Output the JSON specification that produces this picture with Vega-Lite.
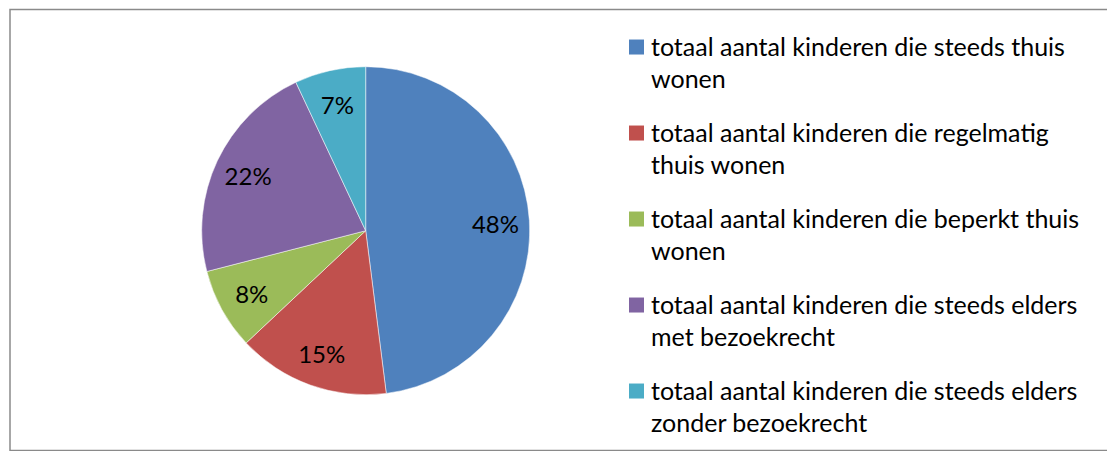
{
  "$schema": "https://vega.github.io/schema/vega-lite/v6.json",
  "width": 1100,
  "height": 441,
  "autosize": {"type": "none"},
  "padding": {"left": 10, "top": 9.5, "right": 0, "bottom": 0},
  "background": "white",
  "view": {"stroke": "#8a8a8a", "strokeWidth": 1.5},
  "config": {
    "view": {"stroke": "#8a8a8a", "strokeWidth": 1.5},
    "style": {"guide-label": {"lineHeight": 32}},
    "font": "Lato"
  },
  "data": {
    "values": [
      {"categorie": "totaal aantal kinderen die steeds thuis wonen", "aandeel": 48, "volgorde": 1, "label": "48%"},
      {"categorie": "totaal aantal kinderen die regelmatig thuis wonen", "aandeel": 15, "volgorde": 2, "label": "15%"},
      {"categorie": "totaal aantal kinderen die beperkt thuis wonen", "aandeel": 8, "volgorde": 3, "label": "8%"},
      {"categorie": "totaal aantal kinderen die steeds elders met bezoekrecht", "aandeel": 22, "volgorde": 4, "label": "22%"},
      {"categorie": "totaal aantal kinderen die steeds elders zonder bezoekrecht", "aandeel": 7, "volgorde": 5, "label": "7%"}
    ]
  },
  "encoding": {
    "theta": {"field": "aandeel", "type": "quantitative", "stack": true},
    "order": {"field": "volgorde", "type": "quantitative", "sort": "ascending"}
  },
  "layer": [
    {
      "mark": {"type": "arc", "outerRadius": 164, "x": 355.7, "y": 221.2, "stroke": "white", "strokeWidth": 0.5},
      "encoding": {
        "color": {
          "field": "categorie",
          "type": "nominal",
          "sort": {"field": "volgorde"},
          "scale": {
            "domain": [
              "totaal aantal kinderen die steeds thuis wonen",
              "totaal aantal kinderen die regelmatig thuis wonen",
              "totaal aantal kinderen die beperkt thuis wonen",
              "totaal aantal kinderen die steeds elders met bezoekrecht",
              "totaal aantal kinderen die steeds elders zonder bezoekrecht"
            ],
            "range": ["#4F81BD", "#C0504D", "#9BBB59", "#8064A2", "#4BACC6"]
          },
          "legend": {
            "title": null,
            "orient": "none",
            "legendX": 614,
            "legendY": 33.5,
            "symbolType": "M-1,-2.13H1V-0.13H-1Z",
            "symbolSize": 225,
            "symbolStrokeWidth": 0,
            "labelFontSize": 25,
            "labelFont": "Lato",
            "labelColor": "#000000",
            "labelBaseline": "alphabetic",
            "labelOffset": 2,
            "labelLimit": 600,
            "rowPadding": 28,
            "encode": {"labels": {"enter": {"lineHeight": {"value": 32}}, "update": {"lineHeight": {"value": 32}}}},
            "labelExpr": "datum.label == 'totaal aantal kinderen die steeds thuis wonen' ? ['totaal aantal kinderen die steeds thuis', 'wonen'] : datum.label == 'totaal aantal kinderen die regelmatig thuis wonen' ? ['totaal aantal kinderen die regelmatig', 'thuis wonen'] : datum.label == 'totaal aantal kinderen die beperkt thuis wonen' ? ['totaal aantal kinderen die beperkt thuis', 'wonen'] : datum.label == 'totaal aantal kinderen die steeds elders met bezoekrecht' ? ['totaal aantal kinderen die steeds elders', 'met bezoekrecht'] : ['totaal aantal kinderen die steeds elders', 'zonder bezoekrecht']"
          }
        }
      }
    },
    {
      "mark": {"type": "text", "radius": 130, "x": 355.7, "y": 221.2, "dy": 3, "fontSize": 24, "font": "Lato", "color": "#000000", "baseline": "middle", "align": "center"},
      "encoding": {
        "text": {"field": "label", "type": "nominal"}
      }
    }
  ]
}
